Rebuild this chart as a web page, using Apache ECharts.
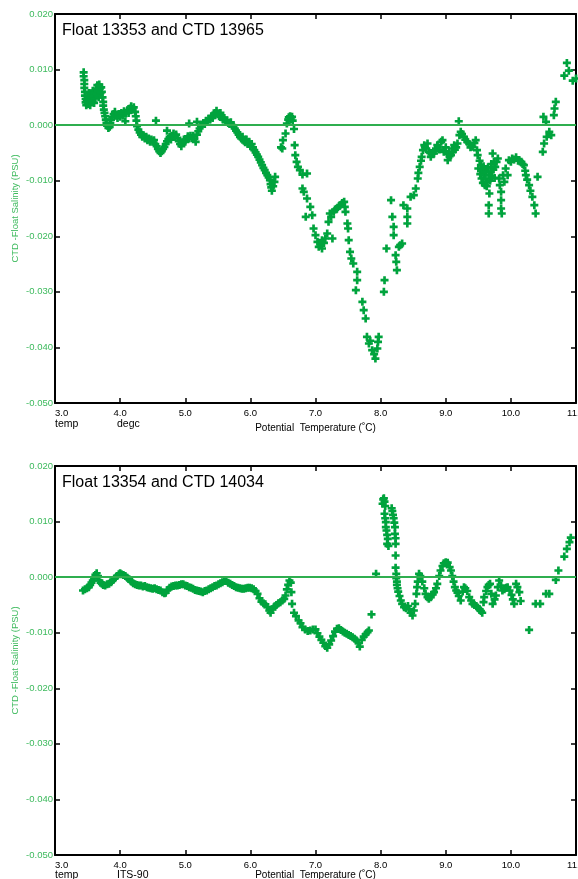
<!DOCTYPE html>
<html><head><meta charset="utf-8">
<script src="https://cdn.jsdelivr.net/npm/echarts@6/dist/echarts.min.js"></script>
<style>html,body{margin:0;padding:0;background:#fff}#c{width:578px;height:879px}</style>
</head><body><div id="c"></div><script>
const titles = ['Float 13353 and CTD 13965', 'Float 13354 and CTD 14034'];
const unitLabels = [['temp', 'degc'], ['temp', 'ITS-90']];
const xName = 'Potential  Temperature (˚C)';
const yName = 'CTD -Float Salinity (PSU)';
const xRange = [3, 11];
const yRange = [-0.05, 0.02];
const zeroLevel = 0;

// [potential temperature (degC), CTD - float salinity (PSU)]
const float13353 = [
[3.44,0.0095],[3.44,0.0088],[3.45,0.0081],[3.45,0.0074],[3.45,0.0067],[3.46,0.0060],[3.46,0.0053],[3.47,0.0047],[3.47,0.0041],[3.48,0.0036],
[3.49,0.0044],[3.50,0.0052],[3.51,0.0038],[3.52,0.0058],[3.53,0.0046],[3.54,0.0036],[3.55,0.0050],[3.56,0.0057],[3.57,0.0043],[3.58,0.0062],
[3.59,0.0052],[3.60,0.0040],[3.61,0.0058],[3.62,0.0048],[3.63,0.0066],[3.64,0.0056],[3.65,0.0072],[3.66,0.0062],[3.67,0.0050],[3.68,0.0073],
[3.69,0.0066],[3.70,0.0058],[3.71,0.0068],[3.72,0.0060],[3.73,0.0050],[3.74,0.0042],[3.74,0.0035],[3.75,0.0028],[3.76,0.0022],[3.77,0.0016],
[3.78,0.0010],[3.79,0.0004],[3.80,-0.0001],[3.82,-0.0005],[3.84,-0.0003],[3.85,0.0004],[3.86,0.0010],[3.88,0.0015],[3.90,0.0020],[3.92,0.0024],
[3.94,0.0017],[3.96,0.0013],[3.98,0.0020],[4.00,0.0015],[4.02,0.0022],[4.04,0.0017],[4.06,0.0025],[4.08,0.0007],[4.09,0.0021],[4.11,0.0027],
[4.13,0.0022],[4.15,0.0030],[4.17,0.0034],[4.19,0.0028],[4.21,0.0032],[4.23,0.0024],[4.24,0.0016],[4.25,0.0008],[4.26,-0.0002],[4.28,-0.0008],
[4.30,-0.0013],[4.32,-0.0017],[4.34,-0.0021],[4.36,-0.0018],[4.38,-0.0024],[4.40,-0.0021],[4.42,-0.0027],[4.44,-0.0024],[4.46,-0.0030],[4.48,-0.0026],
[4.50,-0.0030],[4.52,-0.0027],[4.54,-0.0034],[4.55,0.0008],[4.56,-0.0038],[4.58,-0.0043],[4.60,-0.0047],[4.62,-0.0050],[4.64,-0.0047],[4.66,-0.0043],
[4.68,-0.0039],[4.70,-0.0034],[4.72,-0.0010],[4.72,-0.0029],[4.74,-0.0025],[4.76,-0.0021],[4.78,-0.0026],[4.80,-0.0019],[4.82,-0.0015],[4.84,-0.0021],
[4.86,-0.0017],[4.88,-0.0023],[4.90,-0.0029],[4.92,-0.0034],[4.94,-0.0038],[4.96,-0.0032],[4.98,-0.0026],[5.00,-0.0030],[5.02,-0.0025],[5.04,-0.0020],
[5.06,0.0003],[5.06,-0.0024],[5.08,-0.0019],[5.10,-0.0023],[5.12,-0.0019],[5.14,-0.0025],[5.16,-0.0030],[5.18,0.0006],[5.18,-0.0017],[5.20,-0.0011],
[5.22,-0.0006],[5.24,-0.0002],[5.26,0.0001],[5.28,0.0004],[5.30,0.0002],[5.32,0.0008],[5.34,0.0006],[5.36,0.0012],[5.38,0.0010],[5.40,0.0016],
[5.42,0.0013],[5.44,0.0018],[5.46,0.0022],[5.48,0.0026],[5.50,0.0020],[5.52,0.0016],[5.54,0.0022],[5.56,0.0014],[5.58,0.0010],[5.60,0.0013],
[5.62,0.0006],[5.64,0.0009],[5.66,0.0004],[5.68,0.0002],[5.70,0.0005],[5.72,0.0000],[5.74,-0.0002],[5.76,-0.0006],[5.78,-0.0010],[5.80,-0.0013],
[5.82,-0.0017],[5.84,-0.0021],[5.86,-0.0024],[5.88,-0.0021],[5.90,-0.0028],[5.92,-0.0031],[5.94,-0.0026],[5.96,-0.0034],[5.98,-0.0030],[6.00,-0.0038],
[6.02,-0.0034],[6.04,-0.0040],[6.06,-0.0045],[6.08,-0.0049],[6.10,-0.0053],[6.12,-0.0057],[6.14,-0.0062],[6.16,-0.0067],[6.18,-0.0072],[6.20,-0.0077],
[6.22,-0.0081],[6.24,-0.0086],[6.26,-0.0090],[6.28,-0.0094],[6.30,-0.0099],[6.31,-0.0106],[6.32,-0.0112],[6.33,-0.0118],[6.35,-0.0110],[6.37,-0.0102],
[6.38,-0.0093],[6.47,-0.0040],[6.49,-0.0042],[6.50,-0.0027],[6.54,-0.0015],[6.56,0.0003],[6.58,0.0010],[6.59,0.0014],[6.61,0.0016],[6.62,0.0011],
[6.64,0.0015],[6.65,0.0008],[6.67,-0.0007],[6.68,-0.0036],[6.69,-0.0054],[6.71,-0.0066],[6.73,-0.0075],[6.76,-0.0081],[6.80,-0.0089],[6.87,-0.0087],
[6.80,-0.0114],[6.82,-0.0120],[6.87,-0.0132],[6.92,-0.0147],[6.85,-0.0165],[6.95,-0.0162],[6.97,-0.0186],[7.00,-0.0198],[7.03,-0.0210],[7.05,-0.0219],
[7.08,-0.0214],[7.10,-0.0222],[7.10,-0.0207],[7.13,-0.0212],[7.15,-0.0204],[7.18,-0.0195],[7.20,-0.0174],[7.22,-0.0159],[7.26,-0.0204],[7.24,-0.0165],
[7.28,-0.0156],[7.30,-0.0152],[7.33,-0.0150],[7.36,-0.0146],[7.38,-0.0144],[7.41,-0.0140],[7.44,-0.0138],[7.45,-0.0147],[7.46,-0.0156],[7.49,-0.0177],
[7.50,-0.0186],[7.51,-0.0207],[7.53,-0.0228],[7.55,-0.0240],[7.58,-0.0249],[7.64,-0.0264],[7.64,-0.0279],[7.62,-0.0297],[7.72,-0.0318],[7.74,-0.0333],
[7.77,-0.0348],[7.79,-0.0381],[7.82,-0.0393],[7.84,-0.0388],[7.87,-0.0405],[7.90,-0.0412],[7.92,-0.0420],[7.95,-0.0402],[7.97,-0.0381],[7.96,-0.0390],
[8.05,-0.0300],[8.06,-0.0279],[8.09,-0.0222],[8.16,-0.0135],[8.18,-0.0165],[8.20,-0.0183],[8.20,-0.0198],[8.23,-0.0234],[8.25,-0.0261],[8.24,-0.0246],
[8.28,-0.0219],[8.33,-0.0213],[8.30,-0.0216],[8.35,-0.0144],[8.41,-0.0150],[8.41,-0.0165],[8.41,-0.0177],[8.46,-0.0129],[8.51,-0.0126],[8.54,-0.0114],
[8.57,-0.0096],[8.58,-0.0086],[8.60,-0.0075],[8.62,-0.0064],[8.63,-0.0057],[8.65,-0.0045],[8.67,-0.0036],[8.68,-0.0040],[8.70,-0.0042],[8.72,-0.0033],
[8.74,-0.0048],[8.76,-0.0050],[8.77,-0.0057],[8.79,-0.0050],[8.82,-0.0051],[8.84,-0.0046],[8.85,-0.0042],[8.87,-0.0036],[8.88,-0.0040],[8.90,-0.0044],
[8.93,-0.0030],[8.95,-0.0027],[8.97,-0.0048],[9.00,-0.0040],[9.02,-0.0052],[9.03,-0.0063],[9.05,-0.0048],[9.06,-0.0056],[9.08,-0.0054],[9.10,-0.0042],
[9.11,-0.0048],[9.13,-0.0036],[9.14,-0.0044],[9.16,-0.0040],[9.18,-0.0033],[9.20,0.0007],[9.21,-0.0018],[9.23,-0.0012],[9.25,-0.0016],[9.28,-0.0021],
[9.30,-0.0026],[9.33,-0.0030],[9.36,-0.0034],[9.38,-0.0040],[9.41,-0.0039],[9.44,-0.0032],[9.46,-0.0027],[9.48,-0.0045],[9.49,-0.0054],[9.50,-0.0078],
[9.52,-0.0064],[9.53,-0.0088],[9.54,-0.0072],[9.55,-0.0096],[9.56,-0.0080],[9.57,-0.0104],[9.58,-0.0074],[9.59,-0.0090],[9.60,-0.0108],[9.61,-0.0096],
[9.62,-0.0084],[9.63,-0.0110],[9.64,-0.0102],[9.65,-0.0076],[9.66,-0.0090],[9.67,-0.0123],[9.66,-0.0144],[9.66,-0.0159],[9.68,-0.0100],[9.69,-0.0084],
[9.70,-0.0070],[9.71,-0.0092],[9.72,-0.0051],[9.73,-0.0080],[9.74,-0.0066],[9.75,-0.0095],[9.76,-0.0075],[9.78,-0.0066],[9.80,-0.0060],[9.82,-0.0096],
[9.83,-0.0108],[9.85,-0.0120],[9.85,-0.0135],[9.85,-0.0150],[9.86,-0.0159],[9.88,-0.0090],[9.90,-0.0102],[9.92,-0.0078],[9.95,-0.0090],[9.97,-0.0063],
[10.00,-0.0066],[10.02,-0.0060],[10.05,-0.0062],[10.08,-0.0058],[10.11,-0.0064],[10.13,-0.0063],[10.16,-0.0066],[10.18,-0.0070],[10.20,-0.0072],[10.22,-0.0082],
[10.23,-0.0090],[10.25,-0.0098],[10.28,-0.0108],[10.30,-0.0118],[10.33,-0.0129],[10.36,-0.0144],[10.38,-0.0159],[10.41,-0.0093],[10.49,-0.0048],[10.51,-0.0033],
[10.55,-0.0021],[10.59,-0.0012],[10.62,-0.0018],[10.54,0.0006],[10.50,0.0015],[10.66,0.0018],[10.67,0.0030],[10.69,0.0042],[10.82,0.0089],[10.86,0.0112],
[10.89,0.0098],[10.95,0.0080],[11.00,0.0084]
];

const float13354 = [
[3.43,-0.0024],[3.46,-0.0022],[3.49,-0.0020],[3.52,-0.0018],[3.54,-0.0014],[3.56,-0.0010],[3.58,-0.0006],[3.60,-0.0002],[3.62,0.0004],[3.64,0.0007],
[3.66,0.0002],[3.68,-0.0006],[3.70,-0.0010],[3.72,-0.0012],[3.74,-0.0014],[3.77,-0.0015],[3.80,-0.0013],[3.83,-0.0012],[3.86,-0.0009],[3.89,-0.0005],
[3.92,-0.0002],[3.95,0.0002],[3.98,0.0005],[4.00,0.0007],[4.02,0.0005],[4.05,0.0004],[4.08,0.0002],[4.11,-0.0001],[4.14,-0.0004],[4.17,-0.0008],
[4.20,-0.0011],[4.23,-0.0013],[4.26,-0.0014],[4.29,-0.0015],[4.32,-0.0015],[4.35,-0.0017],[4.38,-0.0016],[4.41,-0.0018],[4.44,-0.0019],[4.47,-0.0020],
[4.50,-0.0021],[4.53,-0.0020],[4.56,-0.0022],[4.59,-0.0023],[4.62,-0.0024],[4.65,-0.0027],[4.68,-0.0029],[4.70,-0.0028],[4.73,-0.0023],[4.76,-0.0019],
[4.79,-0.0017],[4.82,-0.0016],[4.85,-0.0015],[4.88,-0.0015],[4.91,-0.0014],[4.94,-0.0013],[4.97,-0.0013],[5.00,-0.0015],[5.03,-0.0016],[5.06,-0.0018],
[5.09,-0.0019],[5.12,-0.0021],[5.15,-0.0023],[5.18,-0.0024],[5.21,-0.0025],[5.24,-0.0026],[5.27,-0.0027],[5.30,-0.0025],[5.33,-0.0024],[5.36,-0.0022],
[5.39,-0.0020],[5.42,-0.0018],[5.45,-0.0016],[5.48,-0.0015],[5.51,-0.0013],[5.54,-0.0011],[5.57,-0.0009],[5.60,-0.0007],[5.63,-0.0007],[5.66,-0.0010],
[5.69,-0.0012],[5.72,-0.0014],[5.75,-0.0016],[5.78,-0.0018],[5.81,-0.0019],[5.84,-0.0020],[5.87,-0.0021],[5.90,-0.0021],[5.93,-0.0020],[5.96,-0.0019],
[5.99,-0.0019],[6.02,-0.0020],[6.05,-0.0022],[6.08,-0.0025],[6.11,-0.0030],[6.14,-0.0038],[6.17,-0.0044],[6.20,-0.0047],[6.23,-0.0049],[6.26,-0.0054],
[6.29,-0.0060],[6.31,-0.0064],[6.34,-0.0058],[6.37,-0.0053],[6.40,-0.0050],[6.43,-0.0047],[6.46,-0.0045],[6.49,-0.0042],[6.52,-0.0039],[6.54,-0.0033],
[6.56,-0.0022],[6.58,-0.0014],[6.60,-0.0006],[6.62,-0.0010],[6.63,-0.0027],[6.64,-0.0048],[6.67,-0.0064],[6.70,-0.0070],[6.74,-0.0078],[6.77,-0.0083],
[6.80,-0.0090],[6.84,-0.0094],[6.88,-0.0097],[6.92,-0.0096],[6.96,-0.0094],[7.00,-0.0094],[7.03,-0.0101],[7.06,-0.0107],[7.09,-0.0113],[7.12,-0.0118],
[7.15,-0.0124],[7.18,-0.0127],[7.21,-0.0121],[7.24,-0.0114],[7.27,-0.0106],[7.30,-0.0098],[7.33,-0.0093],[7.36,-0.0092],[7.39,-0.0095],[7.42,-0.0098],
[7.45,-0.0100],[7.48,-0.0102],[7.51,-0.0104],[7.54,-0.0106],[7.57,-0.0108],[7.60,-0.0111],[7.63,-0.0114],[7.66,-0.0119],[7.68,-0.0125],[7.71,-0.0113],
[7.74,-0.0107],[7.77,-0.0103],[7.80,-0.0099],[7.82,-0.0096],[7.86,-0.0067],[7.93,0.0006],
[8.03,0.0132],[8.04,0.0140],[8.05,0.0142],[8.06,0.0136],[8.07,0.0128],[8.06,0.0114],[8.07,0.0106],[8.08,0.0099],[8.08,0.0090],[8.09,0.0084],
[8.10,0.0076],[8.11,0.0069],[8.10,0.0060],[8.12,0.0056],[8.17,0.0124],[8.18,0.0119],[8.19,0.0112],[8.20,0.0106],[8.21,0.0098],[8.22,0.0090],
[8.22,0.0078],[8.23,0.0070],[8.23,0.0060],[8.23,0.0039],[8.23,0.0017],[8.24,0.0006],[8.24,-0.0002],[8.25,-0.0008],[8.25,-0.0014],[8.26,-0.0020],
[8.27,-0.0026],[8.29,-0.0034],[8.31,-0.0042],[8.33,-0.0048],[8.36,-0.0054],[8.39,-0.0056],[8.42,-0.0052],[8.44,-0.0058],[8.46,-0.0064],[8.49,-0.0069],
[8.51,-0.0060],[8.53,-0.0048],[8.55,-0.0030],[8.56,-0.0018],[8.57,-0.0008],[8.59,0.0006],[8.61,0.0002],[8.64,-0.0008],[8.67,-0.0020],[8.69,-0.0030],
[8.72,-0.0036],[8.74,-0.0039],[8.77,-0.0036],[8.80,-0.0031],[8.82,-0.0027],[8.85,-0.0020],[8.87,-0.0012],[8.90,0.0002],[8.92,0.0012],[8.95,0.0020],
[8.97,0.0025],[9.00,0.0027],[9.03,0.0026],[9.06,0.0018],[9.08,0.0012],[9.10,0.0002],[9.12,-0.0008],[9.14,-0.0018],[9.16,-0.0024],[9.18,-0.0028],
[9.20,-0.0034],[9.23,-0.0042],[9.26,-0.0026],[9.28,-0.0018],[9.30,-0.0020],[9.33,-0.0025],[9.36,-0.0036],[9.39,-0.0042],[9.41,-0.0048],[9.44,-0.0050],
[9.47,-0.0052],[9.49,-0.0055],[9.52,-0.0058],[9.54,-0.0061],[9.56,-0.0064],[9.58,-0.0045],[9.59,-0.0036],[9.62,-0.0025],[9.64,-0.0018],[9.66,-0.0014],
[9.68,-0.0012],[9.70,-0.0030],[9.72,-0.0048],[9.75,-0.0040],[9.77,-0.0033],[9.80,-0.0018],[9.82,-0.0006],[9.85,-0.0015],[9.87,-0.0024],[9.90,-0.0022],
[9.93,-0.0019],[9.95,-0.0018],[9.98,-0.0024],[10.01,-0.0032],[10.03,-0.0040],[10.05,-0.0048],[10.08,-0.0012],[10.10,-0.0018],[10.13,-0.0027],[10.15,-0.0043],
[10.28,-0.0095],[10.38,-0.0048],[10.45,-0.0048],[10.54,-0.0030],[10.59,-0.0030],[10.69,-0.0005],[10.73,0.0012],[10.82,0.0037],[10.86,0.0051],[10.90,0.0063],
[10.92,0.0071]
];

const datasets = [float13353, float13354];

const FONT = '"Liberation Sans", Arial, Helvetica, sans-serif';
const GREEN_TXT = '#3dba5d';
const PT_COLOR = '#00a33d';
const LINE_COLOR = '#2fae4f';
const PLUS = 'path://M3,0H6V3H9V6H6V9H3V6H0V3H3Z';

const grids = [
  {left: 55, top: 14, width: 521, height: 389},
  {left: 55, top: 466, width: 521, height: 389}
];
const nameGaps = [20, 15.5];

const fmtY = v => (Math.abs(v) < 1e-9 ? '0.000' : v.toFixed(3));

const xAxes = [], yAxes = [], series = [], graphics = [];
grids.forEach((g, i) => {
  xAxes.push({
    type: 'value', gridIndex: i, min: xRange[0], max: xRange[1], interval: 1,
    position: 'bottom',
    name: xName, nameLocation: 'middle', nameGap: nameGaps[i], nameMoveOverlap: false,
    nameTextStyle: {fontFamily: FONT, fontSize: 10, color: '#000'},
    axisLine: {show: true, onZero: false, lineStyle: {color: '#000', width: 2}},
    axisTick: {show: true, inside: true, length: 5, lineStyle: {color: '#000', width: 1.5}},
    axisLabel: {show: true, margin: 5, fontFamily: FONT, fontSize: 9.5, color: '#000',
      formatter: v => v.toFixed(1), alignMinLabel: 'left', showMinLabel: true, showMaxLabel: true},
    splitLine: {show: false}
  });
  xAxes.push({
    type: 'value', gridIndex: i, min: xRange[0], max: xRange[1], interval: 1,
    position: 'top',
    axisLine: {show: true, onZero: false, lineStyle: {color: '#000', width: 2}},
    axisTick: {show: true, inside: true, length: 5, lineStyle: {color: '#000', width: 1.5}},
    axisLabel: {show: false}, splitLine: {show: false}
  });
  yAxes.push({
    type: 'value', gridIndex: i, min: yRange[0], max: yRange[1], interval: 0.01,
    position: 'left',
    name: yName, nameLocation: 'middle', nameGap: 40, nameRotate: 90, nameMoveOverlap: false,
    nameTextStyle: {fontFamily: FONT, fontSize: 9.5, color: GREEN_TXT, verticalAlign: 'middle'},
    axisLine: {show: true, onZero: false, lineStyle: {color: '#000', width: 2}},
    axisTick: {show: true, inside: true, length: 5, lineStyle: {color: '#000', width: 1.5}},
    axisLabel: {show: true, margin: 2, fontFamily: FONT, fontSize: 9.5, color: GREEN_TXT, formatter: fmtY},
    splitLine: {show: false}
  });
  yAxes.push({
    type: 'value', gridIndex: i, min: yRange[0], max: yRange[1], interval: 0.01,
    position: 'right',
    axisLine: {show: true, onZero: false, lineStyle: {color: '#000', width: 2}},
    axisTick: {show: true, inside: true, length: 5, lineStyle: {color: '#000', width: 1.5}},
    axisLabel: {show: false}, splitLine: {show: false}
  });
  series.push({
    type: 'line', xAxisIndex: 2 * i, yAxisIndex: 2 * i, data: [], z: 1, silent: true,
    markLine: {
      silent: true, symbol: ['none', 'none'], label: {show: false},
      lineStyle: {color: LINE_COLOR, width: 2, type: 'solid'},
      data: [{yAxis: zeroLevel}], animation: false
    }
  });
  series.push({
    type: 'scatter', xAxisIndex: 2 * i, yAxisIndex: 2 * i, z: 3,
    symbol: PLUS, symbolSize: 8,
    itemStyle: {color: PT_COLOR, opacity: 1},
    data: datasets[i], animation: false, clip: true
  });
  graphics.push({
    type: 'text', left: g.left + 7, top: g.top + 9,
    style: {text: titles[i], font: '16px ' + FONT, fill: '#000'}
  });
  const lblTop = g.top + g.height + (i === 0 ? 15.5 : 14.5);
  graphics.push({
    type: 'text', left: g.left, top: lblTop,
    style: {text: unitLabels[i][0], font: '10.5px ' + FONT, fill: '#000'}
  });
  graphics.push({
    type: 'text', left: g.left + 62, top: lblTop,
    style: {text: unitLabels[i][1], font: '10.5px ' + FONT, fill: '#000'}
  });
});

const chart = echarts.init(document.getElementById('c'), null, {renderer: 'canvas'});
chart.setOption({
  animation: false,
  backgroundColor: '#fff',
  grid: grids.map(g => Object.assign({containLabel: false, outerBoundsMode: 'none'}, g)),
  xAxis: xAxes,
  yAxis: yAxes,
  series: series,
  graphic: graphics
});
</script></body></html>
